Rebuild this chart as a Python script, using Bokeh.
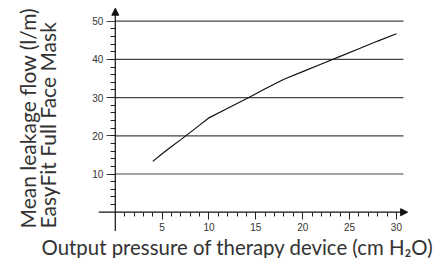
from bokeh.plotting import figure
from bokeh.models import LinearAxis, FixedTicker, Arrow, NormalHead, Label
from bokeh.embed import file_html
from bokeh.resources import INLINE
import math

# data
pressure = [4, 5, 6, 7, 8, 9, 10, 12, 14, 16, 18, 20, 22, 24, 26, 28, 30]
leak_flow = [13.3, 15.3, 17.2, 19.0, 20.9, 22.8, 24.7, 27.2, 29.7, 32.3, 34.8, 36.8, 38.8, 40.8, 42.8, 44.8, 46.7]
x_major = [5, 10, 15, 20, 25, 30]
x_minor = [i for i in range(1, 31)]
y_major = [10, 20, 30, 40, 50]
y_minor = [i for i in range(2, 50, 2)]
x_title = "Output pressure of therapy device (cm H\u2082O)"
y_title1 = "Mean leakage flow (l/m)"
y_title2 = "EasyFit Full Face Mask"

# axis extents (data units)
x_axis_extent = (-1.76, 31.2)
y_axis_extent = (-4.9, 53.4)
grid_end = 30.75

TXT = "#333333"
FONT = "Lato"
AX = "#111111"

W, H = 442, 258
p = figure(width=W, height=H, x_range=(-12.25, 34.92), y_range=(-12.12, 55.42),
           output_backend="svg", toolbar_location=None,
           x_axis_location=None, y_axis_location=None,
           min_border_left=0, min_border_right=0, min_border_top=0, min_border_bottom=0)
p.outline_line_color = None
p.xgrid.visible = False
p.ygrid.visible = False

# grid lines
p.segment(x0=[0] * len(y_major), y0=y_major, x1=[grid_end] * len(y_major), y1=y_major,
          line_color="#444444", line_width=1.2)

# data line
p.line(pressure, leak_flow, line_color="#111111", line_width=1.2)

# axes (ticks + labels, axis line drawn by arrows)
xa = LinearAxis(fixed_location=0, ticker=FixedTicker(ticks=x_major, minor_ticks=x_minor))
xa.axis_line_color = None
xa.major_tick_in = 0
xa.major_tick_out = 7
xa.minor_tick_in = 0
xa.minor_tick_out = 4
xa.major_tick_line_color = "#222222"
xa.minor_tick_line_color = "#222222"
xa.major_label_text_font = "Liberation Sans"
xa.major_label_text_font_size = "10px"
xa.major_label_text_color = TXT
xa.major_label_standoff = 4
p.add_layout(xa, "below")

ya = LinearAxis(fixed_location=0, ticker=FixedTicker(ticks=y_major, minor_ticks=y_minor))
ya.axis_line_color = None
ya.major_tick_in = 0
ya.major_tick_out = 9
ya.minor_tick_in = 0
ya.minor_tick_out = 5
ya.major_tick_line_color = "#444444"
ya.minor_tick_line_color = "#222222"
ya.major_label_text_font = "Liberation Sans"
ya.major_label_text_font_size = "10px"
ya.major_label_text_color = TXT
ya.major_label_standoff = 3
ya.major_label_orientation = "horizontal"
p.add_layout(ya, "left")

# axis lines with arrow heads
p.add_layout(Arrow(end=NormalHead(size=7, fill_color=AX, line_color=AX),
                   x_start=x_axis_extent[0], y_start=0, x_end=x_axis_extent[1], y_end=0,
                   line_color=AX, line_width=1.2))
p.add_layout(Arrow(end=NormalHead(size=7, fill_color=AX, line_color=AX),
                   x_start=0, y_start=y_axis_extent[0], x_end=0, y_end=y_axis_extent[1],
                   line_color=AX, line_width=1.2))

# titles (screen units: from left, from bottom)
p.add_layout(Label(x=41, y=12, x_units="screen", y_units="screen", text=x_title,
                   text_font=FONT, text_font_size="20.4px", text_color=TXT,
                   text_align="left", text_baseline="alphabetic"))
p.add_layout(Label(x=27, y=30, x_units="screen", y_units="screen", text=y_title1, angle=math.pi / 2,
                   text_font=FONT, text_font_size="21px", text_color=TXT,
                   text_align="left", text_baseline="alphabetic"))
p.add_layout(Label(x=47, y=30, x_units="screen", y_units="screen", text=y_title2, angle=math.pi / 2,
                   text_font=FONT, text_font_size="21px", text_color=TXT,
                   text_align="left", text_baseline="alphabetic"))

open("out.html", "w").write(file_html(p, INLINE))
